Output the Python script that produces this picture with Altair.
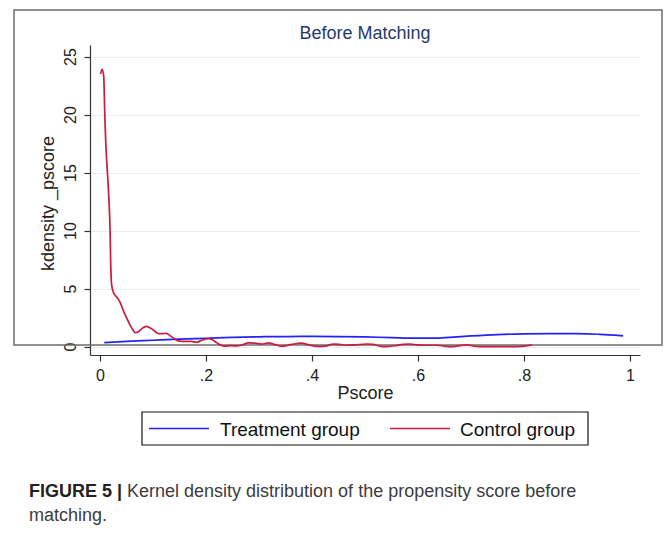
import altair as alt
import pandas as pd

# ---- data ----
control_x = [0.001, 0.004, 0.007, 0.009, 0.012, 0.014, 0.017, 0.019, 0.020, 0.022,
             0.026, 0.031, 0.037, 0.045, 0.052, 0.060, 0.067, 0.073, 0.080, 0.087,
             0.095, 0.103, 0.110, 0.118, 0.125, 0.132, 0.140, 0.148, 0.160, 0.172,
             0.182, 0.192, 0.204, 0.212, 0.220, 0.228, 0.236, 0.248, 0.258, 0.268,
             0.280, 0.292, 0.305, 0.318, 0.330, 0.343, 0.355, 0.366, 0.380, 0.394,
             0.410, 0.425, 0.440, 0.452, 0.462, 0.480, 0.503, 0.515, 0.528, 0.540,
             0.556, 0.572, 0.585, 0.598, 0.612, 0.635, 0.650, 0.662, 0.678, 0.692,
             0.705, 0.715, 0.740, 0.770, 0.796, 0.806, 0.815]
control_y = [23.5, 23.9, 23.3, 20.0, 16.5, 15.0, 12.5, 10.0, 7.5, 5.3,
             4.6, 4.3, 3.9, 3.0, 2.3, 1.6, 1.2, 1.3, 1.6, 1.75,
             1.6, 1.35, 1.12, 1.12, 1.15, 0.95, 0.7, 0.5, 0.45, 0.45,
             0.38, 0.55, 0.7, 0.6, 0.35, 0.12, 0.05, 0.08, 0.06, 0.15,
             0.32, 0.3, 0.22, 0.33, 0.18, 0.02, 0.12, 0.23, 0.3, 0.15,
             0.02, 0.05, 0.22, 0.2, 0.12, 0.15, 0.23, 0.2, 0.05, 0.0,
             0.08, 0.2, 0.23, 0.15, 0.12, 0.12, 0.05, 0.0, 0.08, 0.15,
             0.05, 0.0, 0.0, 0.0, 0.02, 0.08, 0.15]

treat_x = [0.008, 0.05, 0.10, 0.15, 0.20, 0.25, 0.30, 0.35, 0.40, 0.45,
           0.50, 0.55, 0.60, 0.63, 0.66, 0.70, 0.75, 0.80, 0.85, 0.90,
           0.94, 0.97, 0.987]
treat_y = [0.35, 0.45, 0.55, 0.65, 0.72, 0.80, 0.85, 0.87, 0.88, 0.87,
           0.84, 0.78, 0.73, 0.73, 0.80, 0.92, 1.04, 1.10, 1.12, 1.12,
           1.07, 1.00, 0.93]

groups = ["Treatment group", "Control group"]
group_colors = ["#2323f5", "#cc1a40"]
x_ticks = [0, 0.2, 0.4, 0.6, 0.8, 1]
y_ticks = [0, 5, 10, 15, 20, 25]

title_text = ["Before Matching"]
x_title = "Pscore"
y_title = "kdensity _pscore"
caption_bold = ["FIGURE 5 |"]
caption_line1 = ["Kernel density distribution of the propensity score before"]
caption_line2 = ["matching."]

FONT = "Liberation Sans"

df = pd.concat([
    pd.DataFrame({"pscore": treat_x, "density": treat_y, "group": groups[0]}),
    pd.DataFrame({"pscore": control_x, "density": control_y, "group": groups[1]}),
], ignore_index=True)

W, H = 550, 310
ONE = alt.Data(values=[{}])

frame = alt.Chart(ONE).mark_rect(
    fillOpacity=0, stroke="#6e6e6e", strokeWidth=1.5
).encode(x=alt.value(-76), x2=alt.value(572), y=alt.value(-35), y2=alt.value(300))

lines = alt.Chart(df).mark_line(strokeWidth=1.7, interpolate="monotone").encode(
    x=alt.X("pscore:Q",
            scale=alt.Scale(domain=[-0.0189, 1.0189], nice=False, zero=False),
            axis=alt.Axis(values=x_ticks,
                          labelExpr="datum.value == 0 ? '0' : datum.value == 1 ? '1' : replace(format(datum.value, '.1f'), '0.', '.')",
                          grid=False, tickSize=6, labelPadding=19,
                          labelBaseline="alphabetic", labelFlush=False,
                          labelFontSize=16, title=x_title, titleFontSize=18,
                          titleFontWeight="normal", titleX=W / 2, titleY=43,
                          titleBaseline="alphabetic", titleAlign="center")),
    y=alt.Y("density:Q",
            scale=alt.Scale(domain=[-0.72, 26.0], nice=False, zero=False),
            axis=alt.Axis(values=y_ticks, labelAngle=270, labelAlign="center",
                          labelBaseline="alphabetic", tickSize=6, labelPadding=9,
                          labelFontSize=16, grid=True, gridColor="#e6f0f4",
                          gridWidth=1.2, title=y_title, titleFontSize=18,
                          titleFontWeight="normal", titleAngle=270, titleX=-37,
                          titleY=158, titleAlign="center",
                          titleBaseline="alphabetic")),
    color=alt.Color("group:N",
                    scale=alt.Scale(domain=groups, range=group_colors),
                    sort=groups, legend=None),
    detail="group:N",
)

# ---- legend box (drawn as marks, horizontal Stata-style) ----
leg_box = alt.Chart(ONE).mark_rect(
    fillOpacity=0, stroke="#111111", strokeWidth=1.2
).encode(x=alt.value(52), x2=alt.value(498), y=alt.value(367), y2=alt.value(400))

leg_items = []
for name, col, sx, tx in [(groups[0], group_colors[0], 59, 130),
                          (groups[1], group_colors[1], 300, 370)]:
    leg_items.append(
        alt.Chart(ONE).mark_rule(color=col, strokeWidth=1.7).encode(
            x=alt.value(sx), x2=alt.value(sx + 60), y=alt.value(383.5))
    )
    leg_items.append(
        alt.Chart(pd.DataFrame({"t": [name]})).mark_text(
            font=FONT, fontSize=19, color="#111111", align="left",
            baseline="alphabetic"
        ).encode(text="t:N", x=alt.value(tx), y=alt.value(391))
    )

title = alt.Chart(pd.DataFrame({"t": title_text})).mark_text(
    font=FONT, fontSize=18, color="#1f3a6e", align="center", baseline="alphabetic"
).encode(text="t:N", x=alt.value(W / 2), y=alt.value(-6))

cap_b = alt.Chart(pd.DataFrame({"t": caption_bold})).mark_text(
    font=FONT, fontSize=18, fontWeight="bold", color="#222222", align="left",
    baseline="alphabetic"
).encode(text="t:N", x=alt.value(-61), y=alt.value(452))

cap_1 = alt.Chart(pd.DataFrame({"t": caption_line1})).mark_text(
    font=FONT, fontSize=18, color="#3c3c3c", align="left", baseline="alphabetic"
).encode(text="t:N", x=alt.value(37), y=alt.value(452))

cap_2 = alt.Chart(pd.DataFrame({"t": caption_line2})).mark_text(
    font=FONT, fontSize=18, color="#3c3c3c", align="left", baseline="alphabetic"
).encode(text="t:N", x=alt.value(-61), y=alt.value(476))

chart = alt.layer(frame, lines, leg_box, *leg_items, title, cap_b, cap_1, cap_2).properties(
    width=W, height=H,
    autosize=alt.AutoSizeParams(type="none"),
    padding={"left": 90, "top": 45, "right": 29, "bottom": 179},
    background="white",
).configure_view(stroke=None).configure_axis(
    domainColor="#333333", tickColor="#333333", labelColor="#222222",
    titleColor="#222222", labelFont=FONT, titleFont=FONT, domainWidth=1.2,
    tickWidth=1.2
)

chart.save("out.html", embed_options={"renderer": "svg", "actions": False})
